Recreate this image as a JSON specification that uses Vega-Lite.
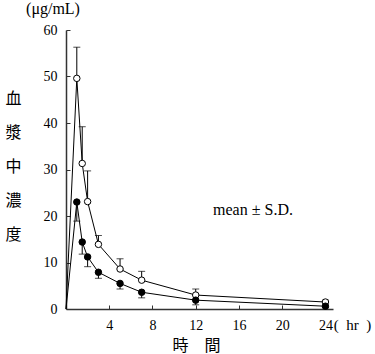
{
  "$schema": "https://vega.github.io/schema/vega-lite/v6.json",
  "autosize": "none",
  "width": 267,
  "height": 279,
  "padding": {"left": 66, "top": 30, "right": 42, "bottom": 45},
  "background": "white",
  "config": {"view": {"stroke": null}, "axis": {"grid": false}},
  "title": {"text": "(μg/mL)", "anchor": "start", "align": "center", "frame": "group", "dx": -13, "dy": 14, "offset": 7, "baseline": "alphabetic", "font": "Liberation Serif, Times New Roman, serif", "fontSize": 16, "fontWeight": "normal", "color": "black"},
  "data": {"values": [
    {"t": 0, "group": "open", "mean": 0, "end": 0},
    {"t": 1, "group": "open", "mean": 49.6, "end": 56.3},
    {"t": 1.5, "group": "open", "mean": 31.3, "end": 39.2},
    {"t": 2, "group": "open", "mean": 23.1, "end": 29.7},
    {"t": 3, "group": "open", "mean": 13.9, "end": 15.8},
    {"t": 5, "group": "open", "mean": 8.6, "end": 10.8},
    {"t": 7, "group": "open", "mean": 6.2, "end": 8.1},
    {"t": 12, "group": "open", "mean": 3.0, "end": 4.3},
    {"t": 24, "group": "open", "mean": 1.5, "end": 1.9},
    {"t": 0, "group": "filled", "mean": 0, "end": 0},
    {"t": 1, "group": "filled", "mean": 23.0, "end": 18.9},
    {"t": 1.5, "group": "filled", "mean": 14.4, "end": 11.8},
    {"t": 2, "group": "filled", "mean": 11.2, "end": 9.1},
    {"t": 3, "group": "filled", "mean": 7.9, "end": 6.6},
    {"t": 5, "group": "filled", "mean": 5.5, "end": 4.3},
    {"t": 7, "group": "filled", "mean": 3.6, "end": 2.4},
    {"t": 12, "group": "filled", "mean": 1.9, "end": 0.9},
    {"t": 24, "group": "filled", "mean": 0.6, "end": 0.3}
  ]},
  "layer": [
    {"mark": {"type": "line", "color": "black", "strokeWidth": 1},
      "encoding": {
        "x": {"field": "t", "type": "quantitative", "scale": {"domain": [0, 24.7], "nice": false},
          "axis": {"values": [4, 8, 12, 16, 20, 24], "tickSize": -4, "labelPadding": 13, "labelFont": "Liberation Serif, Times New Roman, serif", "labelFontSize": 14, "labelColor": "black", "domainColor": "#333", "domainWidth": 1.5, "tickColor": "#333", "tickWidth": 1,
            "title": "時　間", "titleFont": "Noto Sans CJK JP", "titleFontSize": 16, "titleFontWeight": "normal", "titleColor": "black", "titleX": 130, "titleY": 36, "titleBaseline": "middle"}},
        "y": {"field": "mean", "type": "quantitative", "scale": {"domain": [0, 60], "nice": false},
          "axis": {"values": [0, 10, 20, 30, 40, 50, 60], "tickSize": -4, "labelPadding": 13, "labelFont": "Liberation Serif, Times New Roman, serif", "labelFontSize": 14, "labelColor": "black", "domainColor": "#333", "domainWidth": 1.5, "tickColor": "#333", "tickWidth": 1,
            "title": ["血", "漿", "中", "濃", "度"], "titleAngle": 0, "titleLineHeight": 34, "titleFont": "Noto Sans CJK JP", "titleFontSize": 16, "titleFontWeight": "normal", "titleColor": "black", "titleX": -53, "titleY": 60, "titleBaseline": "top", "titleAlign": "center"}},
        "detail": {"field": "group"}
      }},
    {"transform": [{"filter": "datum.t > 0"}], "mark": {"type": "rule", "color": "black", "strokeWidth": 1},
      "encoding": {"x": {"field": "t", "type": "quantitative"}, "y": {"field": "mean", "type": "quantitative"}, "y2": {"field": "end"}}},
    {"transform": [{"filter": "datum.t > 0"}], "mark": {"type": "tick", "orient": "horizontal", "color": "black", "size": 7, "thickness": 1},
      "encoding": {"x": {"field": "t", "type": "quantitative"}, "y": {"field": "end", "type": "quantitative"}}},
    {"transform": [{"filter": "datum.t > 0"}], "mark": {"type": "point", "shape": "circle", "filled": true, "size": 42, "stroke": "black", "strokeWidth": 1, "opacity": 1},
      "encoding": {"x": {"field": "t", "type": "quantitative"}, "y": {"field": "mean", "type": "quantitative"},
        "fill": {"field": "group", "type": "nominal", "scale": {"domain": ["open", "filled"], "range": ["white", "black"]}, "legend": null}}},
    {"data": {"values": [{"label": "mean ± S.D."}]}, "mark": {"type": "text", "font": "Liberation Serif, Times New Roman, serif", "fontSize": 16, "color": "black", "align": "center", "baseline": "middle"},
      "encoding": {"x": {"datum": 17.3, "type": "quantitative"}, "y": {"datum": 21.3, "type": "quantitative"}, "text": {"field": "label"}}},
    {"data": {"values": [{"label": "(\u2002hr\u2002)"}]}, "mark": {"type": "text", "font": "Liberation Serif, Times New Roman, serif", "fontSize": 15, "color": "black", "align": "center", "baseline": "middle"},
      "encoding": {"x": {"datum": 26.5, "type": "quantitative"}, "y": {"datum": -3.5, "type": "quantitative"}, "text": {"field": "label"}}}
  ]
}
